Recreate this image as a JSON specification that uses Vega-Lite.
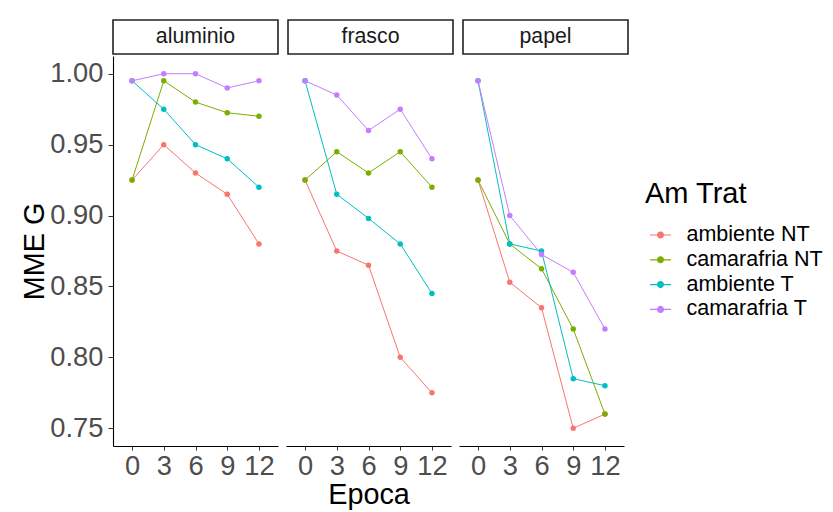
{
  "$schema": "https://vega.github.io/schema/vega-lite/v6.json",
  "background": "white",
  "padding": {"left": 20, "top": 19, "right": 0, "bottom": 0},
  "config": {
    "font": "Liberation Sans",
    "view": {"stroke": null},
    "axis": {"grid": false}
  },
  "data": {
    "values": [
      {"Emb": "aluminio", "Epoca": 0, "AmTrat": "ambiente NT", "MME": 0.925},
      {"Emb": "aluminio", "Epoca": 3, "AmTrat": "ambiente NT", "MME": 0.95},
      {"Emb": "aluminio", "Epoca": 6, "AmTrat": "ambiente NT", "MME": 0.93},
      {"Emb": "aluminio", "Epoca": 9, "AmTrat": "ambiente NT", "MME": 0.915},
      {"Emb": "aluminio", "Epoca": 12, "AmTrat": "ambiente NT", "MME": 0.88},
      {"Emb": "aluminio", "Epoca": 0, "AmTrat": "camarafria NT", "MME": 0.925},
      {"Emb": "aluminio", "Epoca": 3, "AmTrat": "camarafria NT", "MME": 0.995},
      {"Emb": "aluminio", "Epoca": 6, "AmTrat": "camarafria NT", "MME": 0.98},
      {"Emb": "aluminio", "Epoca": 9, "AmTrat": "camarafria NT", "MME": 0.9725},
      {"Emb": "aluminio", "Epoca": 12, "AmTrat": "camarafria NT", "MME": 0.97},
      {"Emb": "aluminio", "Epoca": 0, "AmTrat": "ambiente T", "MME": 0.995},
      {"Emb": "aluminio", "Epoca": 3, "AmTrat": "ambiente T", "MME": 0.975},
      {"Emb": "aluminio", "Epoca": 6, "AmTrat": "ambiente T", "MME": 0.95},
      {"Emb": "aluminio", "Epoca": 9, "AmTrat": "ambiente T", "MME": 0.94},
      {"Emb": "aluminio", "Epoca": 12, "AmTrat": "ambiente T", "MME": 0.92},
      {"Emb": "aluminio", "Epoca": 0, "AmTrat": "camarafria T", "MME": 0.995},
      {"Emb": "aluminio", "Epoca": 3, "AmTrat": "camarafria T", "MME": 1.0},
      {"Emb": "aluminio", "Epoca": 6, "AmTrat": "camarafria T", "MME": 1.0},
      {"Emb": "aluminio", "Epoca": 9, "AmTrat": "camarafria T", "MME": 0.99},
      {"Emb": "aluminio", "Epoca": 12, "AmTrat": "camarafria T", "MME": 0.995},
      {"Emb": "frasco", "Epoca": 0, "AmTrat": "ambiente NT", "MME": 0.925},
      {"Emb": "frasco", "Epoca": 3, "AmTrat": "ambiente NT", "MME": 0.875},
      {"Emb": "frasco", "Epoca": 6, "AmTrat": "ambiente NT", "MME": 0.865},
      {"Emb": "frasco", "Epoca": 9, "AmTrat": "ambiente NT", "MME": 0.8},
      {"Emb": "frasco", "Epoca": 12, "AmTrat": "ambiente NT", "MME": 0.775},
      {"Emb": "frasco", "Epoca": 0, "AmTrat": "camarafria NT", "MME": 0.925},
      {"Emb": "frasco", "Epoca": 3, "AmTrat": "camarafria NT", "MME": 0.945},
      {"Emb": "frasco", "Epoca": 6, "AmTrat": "camarafria NT", "MME": 0.93},
      {"Emb": "frasco", "Epoca": 9, "AmTrat": "camarafria NT", "MME": 0.945},
      {"Emb": "frasco", "Epoca": 12, "AmTrat": "camarafria NT", "MME": 0.92},
      {"Emb": "frasco", "Epoca": 0, "AmTrat": "ambiente T", "MME": 0.995},
      {"Emb": "frasco", "Epoca": 3, "AmTrat": "ambiente T", "MME": 0.915},
      {"Emb": "frasco", "Epoca": 6, "AmTrat": "ambiente T", "MME": 0.898},
      {"Emb": "frasco", "Epoca": 9, "AmTrat": "ambiente T", "MME": 0.88},
      {"Emb": "frasco", "Epoca": 12, "AmTrat": "ambiente T", "MME": 0.845},
      {"Emb": "frasco", "Epoca": 0, "AmTrat": "camarafria T", "MME": 0.995},
      {"Emb": "frasco", "Epoca": 3, "AmTrat": "camarafria T", "MME": 0.985},
      {"Emb": "frasco", "Epoca": 6, "AmTrat": "camarafria T", "MME": 0.96},
      {"Emb": "frasco", "Epoca": 9, "AmTrat": "camarafria T", "MME": 0.975},
      {"Emb": "frasco", "Epoca": 12, "AmTrat": "camarafria T", "MME": 0.94},
      {"Emb": "papel", "Epoca": 0, "AmTrat": "ambiente NT", "MME": 0.925},
      {"Emb": "papel", "Epoca": 3, "AmTrat": "ambiente NT", "MME": 0.853},
      {"Emb": "papel", "Epoca": 6, "AmTrat": "ambiente NT", "MME": 0.835},
      {"Emb": "papel", "Epoca": 9, "AmTrat": "ambiente NT", "MME": 0.75},
      {"Emb": "papel", "Epoca": 12, "AmTrat": "ambiente NT", "MME": 0.76},
      {"Emb": "papel", "Epoca": 0, "AmTrat": "camarafria NT", "MME": 0.925},
      {"Emb": "papel", "Epoca": 3, "AmTrat": "camarafria NT", "MME": 0.88},
      {"Emb": "papel", "Epoca": 6, "AmTrat": "camarafria NT", "MME": 0.8625},
      {"Emb": "papel", "Epoca": 9, "AmTrat": "camarafria NT", "MME": 0.82},
      {"Emb": "papel", "Epoca": 12, "AmTrat": "camarafria NT", "MME": 0.76},
      {"Emb": "papel", "Epoca": 0, "AmTrat": "ambiente T", "MME": 0.995},
      {"Emb": "papel", "Epoca": 3, "AmTrat": "ambiente T", "MME": 0.88},
      {"Emb": "papel", "Epoca": 6, "AmTrat": "ambiente T", "MME": 0.875},
      {"Emb": "papel", "Epoca": 9, "AmTrat": "ambiente T", "MME": 0.785},
      {"Emb": "papel", "Epoca": 12, "AmTrat": "ambiente T", "MME": 0.78},
      {"Emb": "papel", "Epoca": 0, "AmTrat": "camarafria T", "MME": 0.995},
      {"Emb": "papel", "Epoca": 3, "AmTrat": "camarafria T", "MME": 0.9},
      {"Emb": "papel", "Epoca": 6, "AmTrat": "camarafria T", "MME": 0.8725},
      {"Emb": "papel", "Epoca": 9, "AmTrat": "camarafria T", "MME": 0.86},
      {"Emb": "papel", "Epoca": 12, "AmTrat": "camarafria T", "MME": 0.82}
    ]
  },
  "spacing": 1,
  "vconcat": [
    {
      "transform": [{"aggregate": [{"op": "count", "as": "n"}], "groupby": ["Emb"]}],
      "facet": {"column": {"field": "Emb", "type": "nominal", "header": null}},
      "spacing": 8,
      "spec": {
        "width": 165,
        "height": 34,
        "view": {"stroke": "#222222", "strokeWidth": 1.6, "fill": "white"},
        "mark": {"type": "text", "fontSize": 21.3, "color": "#1A1A1A", "baseline": "middle"},
        "encoding": {"text": {"field": "Emb", "type": "nominal"}}
      }
    },
    {
      "facet": {
        "column": {
          "field": "Emb",
          "type": "nominal",
          "title": "Epoca",
          "header": {
            "labels": false,
            "titleOrient": "bottom",
            "titleFontSize": 28.8,
            "titleFontWeight": "normal",
            "titleColor": "black",
            "titlePadding": -9
          }
        }
      },
      "spacing": 8,
      "spec": {
        "width": 165,
        "height": 390,
        "encoding": {
          "x": {
            "field": "Epoca",
            "type": "ordinal",
            "sort": [0, 3, 6, 9, 12],
            "scale": {"type": "point", "padding": 0.6},
            "axis": {
              "title": null,
              "labelFontSize": 27.3,
              "labelColor": "#4D4D4D",
              "labelAngle": 0,
              "labelPadding": 2,
              "tickColor": "#333333",
              "tickSize": 4,
              "domainColor": "black",
              "domainWidth": 1.1
            }
          },
          "y": {
            "field": "MME",
            "type": "quantitative",
            "scale": {"domain": [0.7375, 1.0125], "nice": false, "zero": false},
            "axis": {
              "title": "MME G",
              "values": [0.75, 0.8, 0.85, 0.9, 0.95, 1.0],
              "format": ".2f",
              "titleFontSize": 28.8,
              "titleFontWeight": "normal",
              "titleColor": "black",
              "titlePadding": 0,
              "labelFontSize": 27.3,
              "labelColor": "#4D4D4D",
              "labelPadding": 5,
              "tickColor": "#333333",
              "tickSize": 5,
              "domainColor": "black",
              "domainWidth": 1.1
            }
          },
          "color": {
            "field": "AmTrat",
            "type": "nominal",
            "sort": ["ambiente NT", "camarafria NT", "ambiente T", "camarafria T"],
            "scale": {
              "domain": ["ambiente NT", "camarafria NT", "ambiente T", "camarafria T"],
              "range": ["#F8766D", "#7CAE00", "#00BFC4", "#C77CFF"]
            },
            "legend": {
              "title": "Am Trat",
              "orient": "none",
              "legendX": 532,
              "legendY": 160,
              "titleFontSize": 29,
              "titleFontWeight": "normal",
              "titleColor": "black",
              "titlePadding": 14.5,
              "labelFontSize": 21.5,
              "labelColor": "black",
              "labelOffset": 14.5,
              "symbolOffset": 4,
              "rowPadding": 2.8,
              "symbolType": "M-1,0H1M-0.28,0A0.28,0.28,0,1,1,0.28,0A0.28,0.28,0,1,1,-0.28,0",
              "symbolSize": 441,
              "symbolStrokeWidth": 1.2
            }
          }
        },
        "layer": [
          {"mark": {"type": "line", "strokeWidth": 1}},
          {"mark": {"type": "point", "filled": true, "size": 30, "opacity": 1}}
        ]
      }
    }
  ]
}
